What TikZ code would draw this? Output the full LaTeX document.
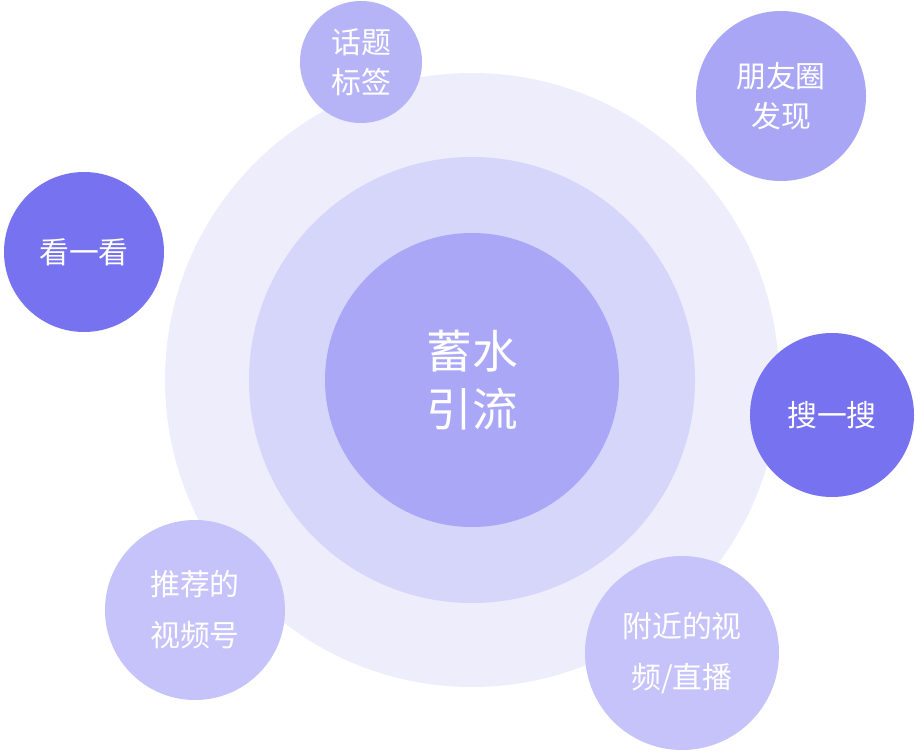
\documentclass[tikz,border=0pt]{standalone}
\usepackage{fontspec}
\newfontfamily\cjk{Noto Sans CJK SC}
\definecolor{ringA}{HTML}{EEEDFC}
\definecolor{ringB}{HTML}{D6D5FA}
\definecolor{ringC}{HTML}{AAA8F6}
\definecolor{bubDark}{HTML}{7773F0}
\definecolor{bubMid}{HTML}{A8A6F5}
\definecolor{bubLight}{HTML}{C5C3FA}
\definecolor{bubTop}{HTML}{B6B4F7}
\tikzset{bub/.style={circle,inner sep=0pt,text=white,align=center,font=\cjk\fontsize{17}{23}\selectfont}}
\begin{document}
\begin{tikzpicture}[x=0.02cm,y=-0.02cm]
\useasboundingbox (0,0) rectangle (915,753);
\node[bub,fill=ringA,minimum size=614*0.02cm] (outer) at (472,380) {};
\node[bub,fill=ringB,minimum size=446*0.02cm] (mid) at (472,380) {};
\node[bub,fill=ringC,minimum size=294*0.02cm,font=\cjk\fontsize{26}{33}\selectfont] (core) at (472,380) {蓄水\\引流};
\node[bub,fill=bubTop,minimum size=122*0.02cm] (topic) at (361,62) {话题\\标签};
\node[bub,fill=bubMid,minimum size=170*0.02cm] (moments) at (781,96) {朋友圈\\发现};
\node[bub,fill=bubDark,minimum size=160*0.02cm] (look) at (84,252) {看一看};
\node[bub,fill=bubDark,minimum size=164*0.02cm] (search) at (832,415) {搜一搜};
\node[bub,fill=bubLight,minimum size=180*0.02cm,font=\cjk\fontsize{17}{29}\selectfont] (rec) at (195,610) {推荐的\\视频号};
\node[bub,fill=bubLight,minimum size=194*0.02cm,font=\cjk\fontsize{17}{29}\selectfont] (near) at (682,653) {附近的视\\频/直播};
\end{tikzpicture}
\end{document}
